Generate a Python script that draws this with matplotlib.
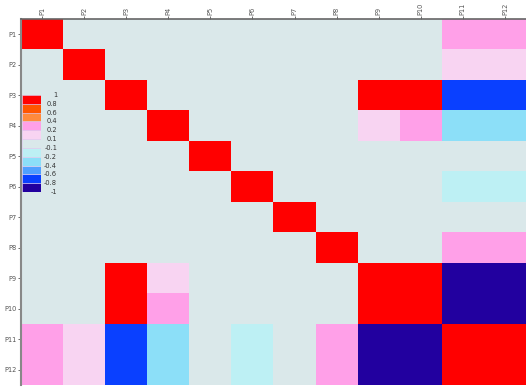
import numpy as np
import matplotlib.pyplot as plt
from matplotlib.colors import ListedColormap, BoundaryNorm

names = ['P%d' % i for i in range(1, 13)]

# correlation-like values, row by row (0 = background)
rows = [
    [1, 0, 0, 0, 0, 0, 0, 0, 0, 0, 0.3, 0.3],
    [0, 1, 0, 0, 0, 0, 0, 0, 0, 0, 0.15, 0.15],
    [0, 0, 1, 0, 0, 0, 0, 0, 1, 1, -0.7, -0.7],
    [0, 0, 0, 1, 0, 0, 0, 0, 0.15, 0.3, -0.3, -0.3],
    [0, 0, 0, 0, 1, 0, 0, 0, 0, 0, 0, 0],
    [0, 0, 0, 0, 0, 1, 0, 0, 0, 0, -0.15, -0.15],
    [0, 0, 0, 0, 0, 0, 1, 0, 0, 0, 0, 0],
    [0, 0, 0, 0, 0, 0, 0, 1, 0, 0, 0.3, 0.3],
    [0, 0, 1, 0.15, 0, 0, 0, 0, 1, 1, -0.9, -0.9],
    [0, 0, 1, 0.3, 0, 0, 0, 0, 1, 1, -0.9, -0.9],
    [0.3, 0.15, -0.7, -0.3, 0, -0.15, 0, 0.3, -0.9, -0.9, 1, 1],
    [0.3, 0.15, -0.7, -0.3, 0, -0.15, 0, 0.3, -0.9, -0.9, 1, 1],
]

bounds = [-1, -0.8, -0.6, -0.4, -0.2, -0.1, 0.1, 0.2, 0.4, 0.6, 0.8, 1]
bound_labels = ['-1', '-0.8', '-0.6', '-0.4', '-0.2', '-0.1', '0.1', '0.2', '0.4', '0.6', '0.8', '1']
colors = ['#22009f', '#0a40ff', '#50a0ff', '#8cdff8', '#bdf0f4', '#dae8ea',
          '#f8d4f2', '#ffa0e8', '#ff8a3c', '#ff5500', '#ff0000']

cmap = ListedColormap(colors)
norm = BoundaryNorm(bounds, cmap.N)

fig = plt.figure(figsize=(5.26, 3.88), dpi=100)
ax = fig.add_axes([21/526, 3/388, 505/526, 366/388])
ax.imshow(np.array(rows), cmap=cmap, norm=norm, aspect='auto', interpolation='nearest')
ax.set_xticks(range(12))
ax.set_yticks(range(12))
ax.set_xticklabels(names, rotation=90, fontsize=4.8, color='#333333')
ax.set_yticklabels(names, fontsize=4.8, color='#333333')
ax.xaxis.tick_top()
ax.tick_params(length=2, width=0.6, pad=1, colors='#555555')
for s in ['right', 'bottom']:
    ax.spines[s].set_visible(False)
ax.spines['left'].set_color('#888888')
ax.spines['left'].set_linewidth(1.5)
ax.spines['top'].set_color('#666666')
ax.spines['top'].set_linewidth(1.2)

# legend inset
lax = fig.add_axes([22/526, 1 - 192/388, 19/526, 97/388])
lax.set_xlim(0, 1)
lax.set_ylim(0, len(colors))
lax.barh(np.arange(len(colors)) + 0.5, 1, height=1, color=colors,
         edgecolor='#e0c8f0', linewidth=0.4)
lax.set_xticks([])
lax.set_yticks([])
lax.patch.set_alpha(0)
for s in lax.spines.values():
    s.set_visible(False)
for i, lab in enumerate(bound_labels):
    lax.text(1.85, i, lab, ha='right', va='center', fontsize=4.8, color='#333333',
             clip_on=False)

fig.savefig('out.png', dpi=100)
